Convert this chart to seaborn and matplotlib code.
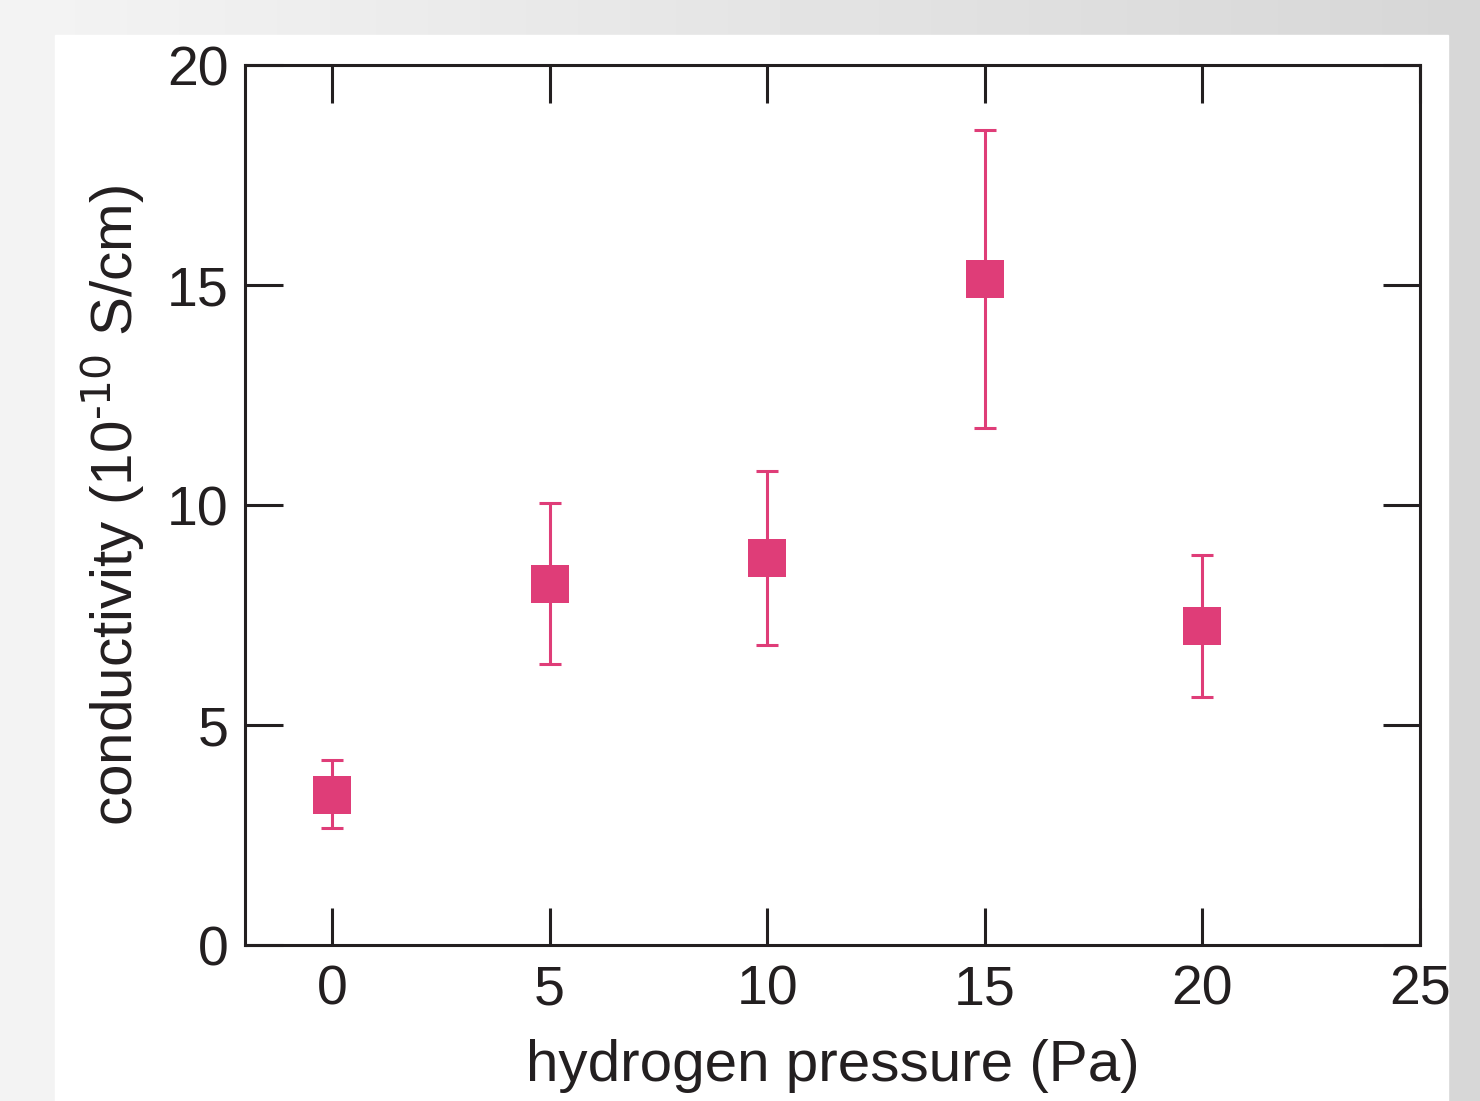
import numpy as np
import pandas as pd
import matplotlib.pyplot as plt
import seaborn as sns
from matplotlib.patches import Rectangle

# data
pressure = [0, 5, 10, 15, 20]
conductivity = [3.41, 8.2, 8.8, 15.14, 7.25]
err_low = [0.75, 1.81, 1.98, 3.39, 1.61]
err_high = [0.79, 1.85, 1.97, 3.38, 1.61]

x_ticks = [0, 5, 10, 15, 20, 25]
y_ticks = [0, 5, 10, 15, 20]

pink = '#DF3D78'


def main():
    df = pd.DataFrame({'pressure': pressure, 'conductivity': conductivity})

    sns.set_style('white')
    plt.rcParams['font.family'] = ['Liberation Sans', 'DejaVu Sans']
    plt.rcParams['mathtext.default'] = 'regular'

    fig = plt.figure(figsize=(14.8, 11.01), dpi=100)

    # grey slide-like background with a white panel
    bg = fig.add_axes([0, 0, 1, 1], zorder=-10)
    grad = np.linspace(0.955, 0.84, 256).reshape(1, -1)
    bg.imshow(grad, cmap='gray', vmin=0, vmax=1, aspect='auto', extent=[0, 1, 0, 1])
    bg.add_patch(Rectangle((55 / 1480, 0), (1448 - 55) / 1480, (1101 - 35) / 1101,
                           transform=bg.transAxes, color='white', zorder=2))
    bg.set_axis_off()

    ax = fig.add_axes([245 / 1480, 156 / 1101, 1175 / 1480, 880 / 1101])
    ax.patch.set_alpha(0)

    ax.errorbar(df['pressure'], df['conductivity'], yerr=[err_low, err_high],
                fmt='none', ecolor=pink, elinewidth=2.2, capsize=8, capthick=2.2, zorder=2)
    sns.scatterplot(data=df, x='pressure', y='conductivity', marker='s', s=760,
                    color=pink, linewidth=0, ax=ax, zorder=3)

    ax.set_xlim(-2, 25)
    ax.set_ylim(0, 20)
    ax.set_xticks(x_ticks)
    ax.set_yticks(y_ticks)

    for sp in ax.spines.values():
        sp.set_linewidth(2.2)
        sp.set_color('#231f20')
        sp.set_visible(True)

    ax.tick_params(direction='in', length=27, width=2.2, color='#231f20',
                   top=True, right=True, bottom=True, left=True,
                   labelsize=40, labelcolor='#231f20')
    ax.tick_params(axis='x', pad=14)
    ax.tick_params(axis='y', pad=12)

    ax.set_xlabel('hydrogen pressure (Pa)', fontsize=42, color='#231f20', labelpad=16)
    ax.set_ylabel('conductivity (10$^{\\text{-10}}$ S/cm)', fontsize=42,
                  color='#231f20', labelpad=14)

    fig.savefig('out.png', dpi=100)


if __name__ == '__main__':
    main()
